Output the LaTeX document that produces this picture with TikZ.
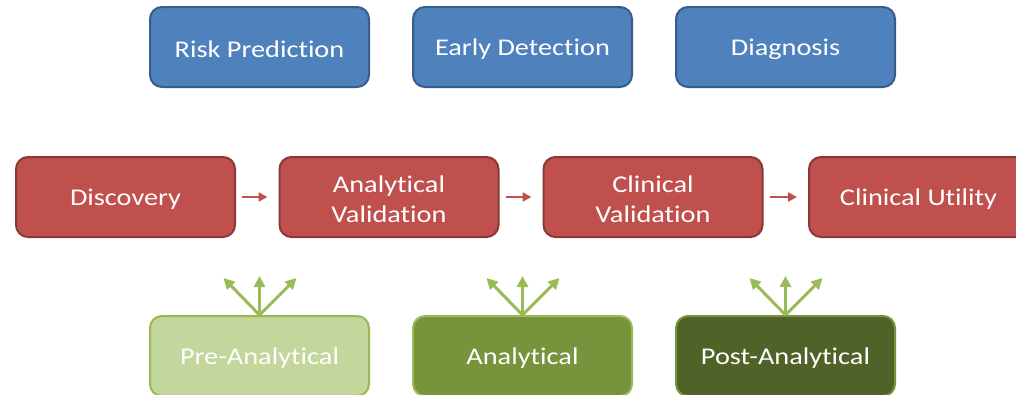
\documentclass[tikz,border=0pt]{standalone}
\usepackage{fontspec}
\setmainfont{Carlito}[Ligatures={NoCommon,NoContextual},FakeStretch=1.18]
\usetikzlibrary{arrows.meta,calc}
\definecolor{bfill}{HTML}{4F81BD}
\definecolor{bdraw}{HTML}{385D8A}
\definecolor{rfill}{HTML}{C0504D}
\definecolor{rdraw}{HTML}{8C3836}
\definecolor{glfill}{HTML}{C3D69B}
\definecolor{gldraw}{HTML}{98B954}
\definecolor{gmfill}{HTML}{77933C}
\definecolor{gmdraw}{HTML}{9BBB59}
\definecolor{gdfill}{HTML}{4F6228}
\definecolor{gddraw}{HTML}{77933C}
\definecolor{garrow}{HTML}{9BBB59}
\tikzset{
  box/.style={rounded corners=12pt, line width=2pt, minimum width=219pt, minimum height=80pt, inner sep=0pt},
  lbl/.style={align=center, text=white, inner sep=0pt, font=\fontsize{24}{30}\selectfont},
  bluebox/.style={box, fill=bfill, draw=bdraw},
  redbox/.style={box, fill=rfill, draw=rdraw},
  lgbox/.style={box, fill=glfill, draw=gldraw},
  mgbox/.style={box, fill=gmfill, draw=gmdraw},
  dgbox/.style={box, fill=gdfill, draw=gddraw},
  redarrow/.style={draw=rfill, line width=2.5pt, -{Triangle[length=9pt,width=9pt]}, shorten <=6pt, shorten >=11pt},
  grarrow/.style={draw=garrow, line width=3pt, -{Triangle[length=11pt,width=11pt]}}
}
\newcommand\boxnode[4]{%
  \node[#1] (#2) at (#3) {};
  \node[lbl] (#2-t) at ([yshift=-2.5pt]#2.center) {#4};}
\begin{document}
\begin{tikzpicture}[x=1pt,y=-1pt]
\useasboundingbox (0,0) rectangle (1016,394);
\clip (0,0) rectangle (1016,394);
\fill[white] (0,0) rectangle (1016,394);
% top row
\boxnode{bluebox}{risk}{259.5,47}{Risk Prediction}
\boxnode{bluebox}{early}{522.5,47}{Early Detection}
\boxnode{bluebox}{diag}{785.5,47}{Diagnosis}
% middle row
\boxnode{redbox}{disc}{125.5,197}{Discovery}
\boxnode{redbox}{aval}{389,197}{Analytical\\Validation}
\boxnode{redbox}{cval}{653,197}{Clinical\\Validation}
\boxnode{redbox}{cutil}{918.5,197}{Clinical Utility}
\draw[redarrow] (disc) -- (aval);
\draw[redarrow] (aval) -- (cval);
\draw[redarrow] (cval) -- (cutil);
% bottom row
\boxnode{lgbox}{pre}{259.5,356}{Pre-Analytical}
\boxnode{mgbox}{ana}{522.5,356}{Analytical}
\boxnode{dgbox}{post}{785.5,356}{Post-Analytical}
% fans
\foreach \n in {pre,ana,post}{
  \coordinate (\n-l) at ($(\n.north)+(-36,-37)$);
  \coordinate (\n-m) at ($(\n.north)+(0,-39)$);
  \coordinate (\n-r) at ($(\n.north)+(37,-37)$);
  \draw[grarrow] (\n.north) -- (\n-l);
  \draw[grarrow] (\n.north) -- (\n-m);
  \draw[grarrow] (\n.north) -- (\n-r);
}
\end{tikzpicture}
\end{document}
